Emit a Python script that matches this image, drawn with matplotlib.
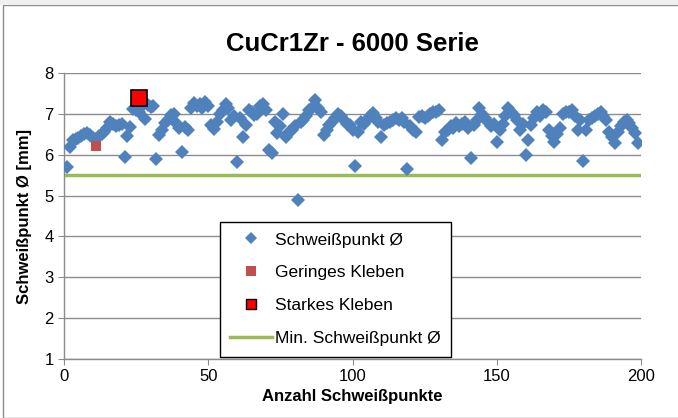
import matplotlib
matplotlib.use("Agg")
import matplotlib.pyplot as plt
from matplotlib.lines import Line2D
from matplotlib.patches import Rectangle

plt.rcParams['font.family'] = ['Liberation Sans', 'DejaVu Sans']

# Data
spot_diam = [
    5.70, 6.18, 6.35, 6.38, 6.42, 6.45, 6.50, 6.53, 6.48, 6.40,
    6.38, 6.45, 6.50, 6.55, 6.65, 6.80, 6.75, 6.70, 6.72, 6.75,
    5.94, 6.45, 6.68, 7.12, 7.10, 7.05, 7.20, 6.88, 7.22, 7.18,
    7.20, 5.90, 6.48, 6.60, 6.78, 6.85, 6.97, 7.00, 6.75, 6.65,
    6.07, 6.68, 6.60, 7.15, 7.27, 7.20, 7.25, 7.15, 7.30, 7.20,
    6.73, 6.62, 6.80, 7.00, 7.10, 7.25, 7.15, 6.85, 6.95, 5.82,
    6.90, 6.43, 6.73, 7.10, 7.05, 6.98, 7.00, 7.20, 7.25, 7.10,
    6.12, 6.05, 6.80, 6.53, 6.70, 7.00, 6.43, 6.55, 6.60, 6.70,
    4.90, 6.80, 6.85, 6.95, 7.10, 7.15, 7.34, 7.15, 7.05, 6.48,
    6.60, 6.73, 6.80, 6.90, 7.00, 6.95, 6.85, 6.75, 6.72, 6.60,
    5.72, 6.55, 6.80, 6.75, 6.85, 6.95, 7.02, 6.90, 6.80, 6.43,
    6.73, 6.78, 6.80, 6.85, 6.90, 6.85, 6.90, 6.80, 5.65, 6.70,
    6.60, 6.55, 6.93, 6.95, 6.90, 6.95, 7.00, 7.05, 7.05, 7.10,
    6.36, 6.55, 6.60, 6.70, 6.65, 6.78, 6.70, 6.75, 6.80, 6.65,
    5.92, 6.73, 6.85, 7.14, 7.00, 6.90, 6.80, 6.70, 6.75, 6.30,
    6.60, 6.75, 6.95, 7.14, 7.05, 6.97, 6.85, 6.60, 6.75, 5.99,
    6.36, 6.73, 6.90, 7.05, 6.95, 7.10, 7.05, 6.60, 6.45, 6.31,
    6.50, 6.65, 7.00, 7.05, 7.05, 7.10, 6.95, 6.60, 6.85, 5.85,
    6.60, 6.85, 6.90, 6.95, 7.00, 7.05, 6.95, 6.85, 6.55, 6.43,
    6.29, 6.56, 6.70, 6.80, 6.85, 6.78, 6.65, 6.53, 6.29,
]
spot_x = list(range(1, len(spot_diam) + 1))
light_stick_x = [11]
light_stick_y = [6.22]
strong_stick_x = [26]
strong_stick_y = [7.40]
min_x = [0, 200]
min_y = [5.5, 5.5]

blue = '#4F81BD'
brown = '#C0504D'
green = '#9BBB59'

fig = plt.figure(figsize=(6.78, 4.18), dpi=100)
fig.patch.set_facecolor('white')
W, H = 678, 418
# outer chart frame
fig.patches.append(Rectangle((3 / W, 0), 1.2, (H - 5) / H, transform=fig.transFigure,
                             fill=False, edgecolor='#8c8c8c', linewidth=1.0))
fig.patches.append(Rectangle((0, (H - 5) / H), 1, 5 / H, transform=fig.transFigure,
                             facecolor='#f0f0f0', edgecolor='none'))

ax = fig.add_axes([64 / W, 1 - 359 / H, (641 - 64) / W, (359 - 73) / H])
ax.set_xlim(0, 200)
ax.set_ylim(1, 8)
ax.set_xticks([0, 50, 100, 150, 200])
ax.set_yticks(range(1, 9))
ax.grid(axis='y', color='#8c8c8c', linewidth=1.0)
ax.set_axisbelow(True)
for s in ['top', 'right']:
    ax.spines[s].set_visible(False)
for s in ['left', 'bottom']:
    ax.spines[s].set_color('#8c8c8c')
    ax.spines[s].set_linewidth(1.0)
ax.tick_params(axis='both', colors='#8c8c8c', labelcolor='black', labelsize=12, length=4)

ax.plot(min_x, min_y, color=green, linewidth=2.5, zorder=2, label='Min. Schweißpunkt Ø')
ax.plot(spot_x, spot_diam, linestyle='none', marker='D', markersize=6.8,
        color=blue, markeredgewidth=0, zorder=3, label='Schweißpunkt Ø')
ax.plot(light_stick_x, light_stick_y, linestyle='none', marker='s', markersize=7.8,
        color=brown, markeredgewidth=0, zorder=4, label='Geringes Kleben')
ax.plot(strong_stick_x, strong_stick_y, linestyle='none', marker='s', markersize=11,
        markerfacecolor='red', markeredgecolor='black', markeredgewidth=1.2, zorder=5,
        label='Starkes Kleben')

ax.set_title('CuCr1Zr - 6000 Serie', fontsize=18.5, fontweight='bold', pad=16)
ax.set_xlabel('Anzahl Schweißpunkte', fontsize=12, fontweight='bold', labelpad=3)
ax.set_ylabel('Schweißpunkt Ø [mm]', fontsize=12, fontweight='bold', labelpad=9)

handles = [
    Line2D([], [], linestyle='none', marker='D', markersize=6.5, color=blue, markeredgewidth=0),
    Line2D([], [], linestyle='none', marker='s', markersize=7, color=brown, markeredgewidth=0),
    Line2D([], [], linestyle='none', marker='s', markersize=7, markerfacecolor='red',
           markeredgecolor='black', markeredgewidth=1.0),
    Line2D([], [], color=green, linewidth=2.5),
]
labels = ['Schweißpunkt Ø', 'Geringes Kleben', 'Starkes Kleben', 'Min. Schweißpunkt Ø']
leg = ax.legend(handles, labels, loc='upper left',
                bbox_to_anchor=((220 - 64) / (641 - 64), (359 - 222) / (359 - 73)),
                fontsize=12.5, frameon=True, fancybox=False, edgecolor='black',
                framealpha=1, labelspacing=1.02, handlelength=2.4, borderpad=0.6,
                handletextpad=0.15, borderaxespad=0)
leg.get_frame().set_linewidth(1.0)

fig.savefig('out.png', dpi=100)
